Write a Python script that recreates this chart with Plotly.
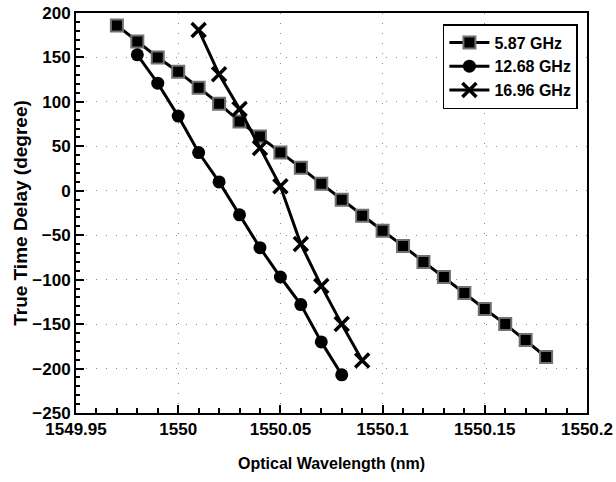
import plotly.graph_objects as go

# Data
wl_587 = [1549.97, 1549.98, 1549.99, 1550.00, 1550.01, 1550.02, 1550.03, 1550.04,
          1550.05, 1550.06, 1550.07, 1550.08, 1550.09, 1550.10, 1550.11, 1550.12,
          1550.13, 1550.14, 1550.15, 1550.16, 1550.17, 1550.18]
ttd_587 = [186, 168, 150, 134, 116, 98, 78, 61, 43, 26, 8, -10, -28, -45, -62, -80,
           -97, -115, -133, -150, -168, -187]

wl_1268 = [1549.98, 1549.99, 1550.00, 1550.01, 1550.02, 1550.03, 1550.04, 1550.05,
           1550.06, 1550.07, 1550.08]
ttd_1268 = [153, 121, 84, 43, 10, -27, -64, -97, -128, -170, -207]

wl_1696 = [1550.01, 1550.02, 1550.03, 1550.04, 1550.05, 1550.06, 1550.07, 1550.08, 1550.09]
ttd_1696 = [181, 131, 92, 48, 5, -60, -107, -150, -191]

series_names = ["5.87 GHz", "12.68 GHz", "16.96 GHz"]

x_tickvals = [1549.95, 1550.00, 1550.05, 1550.10, 1550.15, 1550.20]
x_ticktext = ["1549.95", "1550", "1550.05", "1550.1", "1550.15", "1550.2"]
y_tickvals = [-250, -200, -150, -100, -50, 0, 50, 100, 150, 200]

FONT = "Arial, Liberation Sans, sans-serif"

fig = go.Figure()
fig.add_trace(go.Scatter(
    x=wl_587, y=ttd_587, name=series_names[0], mode="lines+markers",
    line=dict(color="black", width=3),
    marker=dict(symbol="square", size=12, color="black",
                line=dict(color="#707070", width=2)),
))
fig.add_trace(go.Scatter(
    x=wl_1268, y=ttd_1268, name=series_names[1], mode="lines+markers",
    line=dict(color="black", width=3),
    marker=dict(symbol="circle", size=13, color="black",
                line=dict(color="black", width=0)),
))
fig.add_trace(go.Scatter(
    x=wl_1696, y=ttd_1696, name=series_names[2], mode="lines+markers",
    line=dict(color="black", width=3),
    marker=dict(symbol="x-thin", size=14, color="black",
                line=dict(color="black", width=3.5)),
))

axis_common = dict(
    showline=True, linecolor="black", linewidth=2, mirror=True,
    ticks="inside", tickcolor="black", tickwidth=1.5, ticklen=8,
    showgrid=True, gridcolor="#8a8a8a", gridwidth=1, griddash="1px,9px",
    zeroline=False, ticklabeloverflow="allow",
    tickfont=dict(family=FONT, size=17, color="black", weight="bold"),
)

fig.update_xaxes(
    range=[1549.95, 1550.2], tickvals=x_tickvals, ticktext=x_ticktext,
    minor=dict(dtick=0.01, tick0=1549.95, ticks="inside", ticklen=5,
               tickcolor="black", tickwidth=1.5, showgrid=False),
    title=dict(text="Optical Wavelength (nm)", standoff=19,
               font=dict(family=FONT, size=16, color="black", weight="bold")),
    **axis_common,
)
fig.update_yaxes(
    range=[-250, 200], tickvals=y_tickvals,
    minor=dict(dtick=10, tick0=0, ticks="inside", ticklen=4,
               tickcolor="black", tickwidth=1.5, showgrid=False),
    title=dict(text="True Time Delay (degree)", standoff=0,
               font=dict(family=FONT, size=19, color="black", weight="bold")),
    **axis_common,
)

fig.update_layout(
    width=616, height=482,
    margin=dict(l=76, r=29, t=13, b=69, autoexpand=False),
    paper_bgcolor="white", plot_bgcolor="white",
    legend=dict(
        x=0.718, y=0.9725, xanchor="left", yanchor="top",
        bordercolor="black", borderwidth=1.5, bgcolor="white",
        font=dict(family=FONT, size=16, color="black", weight="bold"),
        itemwidth=40, tracegroupgap=0,
    ),
    showlegend=True,
)

fig.write_html("out.html",
               config={"displayModeBar": False},
               post_script="document.body.style.margin='0';document.body.style.overflow='hidden';")
